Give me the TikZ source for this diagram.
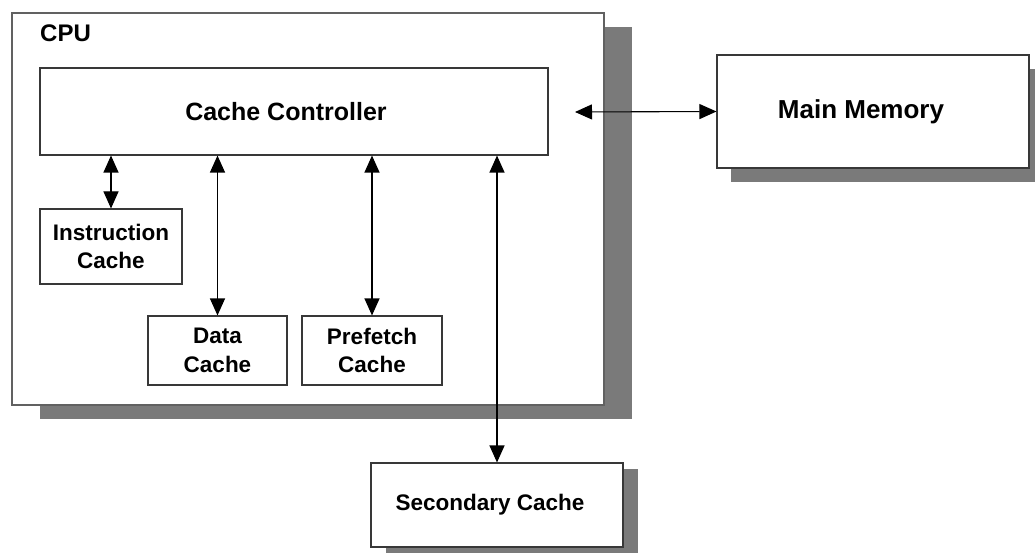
\documentclass[tikz,border=0pt]{standalone}
\usepackage{fontspec}
\setmainfont{Liberation Sans}
\usetikzlibrary{arrows.meta,shadows}
\begin{document}
\begin{tikzpicture}[x=1pt,y=-1pt,
  box/.style={draw=black!78, line width=1.1pt, fill=white, inner sep=0pt,
    align=center, font=\bfseries\fontsize{22.5}{28.5}\selectfont},
  shadowed/.style 2 args={drop shadow={shadow xshift=#1, shadow yshift=#2,
    fill=black!52, opacity=1}},
  dbl/.style={{Triangle[length=17pt,width=15pt]}-{Triangle[length=17pt,width=15pt]},
    line width=1.1pt, black}]
  % page
  \fill[white] (0,0) rectangle (1035,553);
  \clip (0,0) rectangle (1035,553);

  % processor enclosure
  \node[box, shadowed={28pt}{-14pt}, draw=black!62, line width=1.6pt,
    minimum width=592pt, minimum height=392pt] (cpu) at (308,209) {};
  \node[anchor=base west, inner sep=0pt,
    font=\bfseries\fontsize{24}{28}\selectfont] (cpulabel) at (40,42) {CPU};

  % blocks inside the processor
  \node[box, minimum width=508pt, minimum height=87pt,
    font=\bfseries\fontsize{25}{30}\selectfont] (cc) at (294,111.5) {Cache Controller\hspace*{16pt}};
  \node[box, minimum width=142pt, minimum height=75pt] (ic) at (111,246.5) {Instruction\\Cache};
  \node[box, minimum width=139pt, minimum height=69pt] (dc) at (217.5,350.5) {Data\\Cache};
  \node[box, minimum width=140pt, minimum height=69pt] (pc) at (372,350.5) {Prefetch\\Cache};

  % external blocks
  \node[box, shadowed={14pt}{-14pt}, minimum width=312pt, minimum height=113pt,
    font=\bfseries\fontsize{26}{30}\selectfont] (mm) at (873,111.5) {Main Memory\hspace*{24pt}};
  \node[box, shadowed={15pt}{-6pt}, minimum width=252pt, minimum height=84pt] (sc) at (497,505) {Secondary Cache\hspace*{14pt}};

  % connections
  \draw[dbl] (cc.south -| ic.north) -- (ic.north);
  \draw[dbl] (cc.south -| dc.north) -- (dc.north);
  \draw[dbl] (cc.south -| pc.north) -- (pc.north);
  \draw[dbl] (cc.south -| sc.north) -- (sc.north);
  \coordinate (mmtail) at (575,112);
  \draw[dbl] (mmtail) -- (mm.west);
\end{tikzpicture}
\end{document}
